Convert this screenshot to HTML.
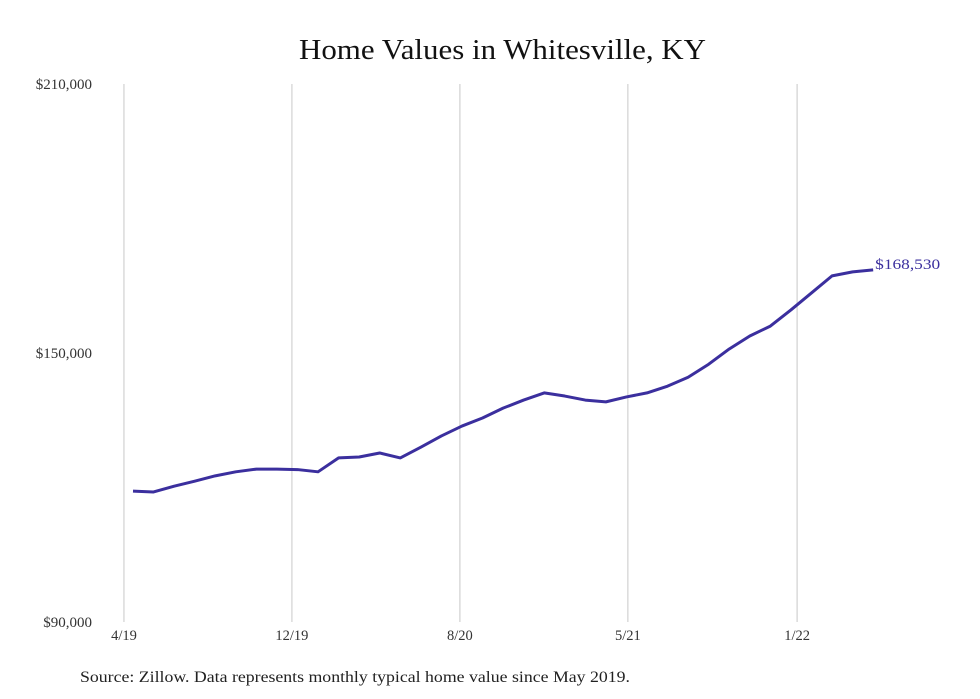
<!DOCTYPE html>
<html><head><meta charset="utf-8"><style>
body{margin:0;background:#fff;}
svg{display:block;font-family:"Liberation Serif",serif;}
</style></head><body>
<svg id="chart" width="980" height="699">
<text x="299" y="59" font-size="29" fill="#111" textLength="407" lengthAdjust="spacingAndGlyphs">Home Values in Whitesville, KY</text>
<g id="grid"></g><g id="yaxis"></g><g id="xaxis"></g><g id="series"></g>
<text x="80" y="682" font-size="15.5" fill="#222" textLength="550" lengthAdjust="spacingAndGlyphs">Source: Zillow. Data represents monthly typical home value since May 2019.</text>
</svg>
<script>
const values=[119200,119000,120300,121400,122600,123500,124100,124100,124000,123500,126600,126800,127700,126600,129000,131500,133700,135500,137700,139500,141100,140400,139500,139100,140200,141100,142600,144600,147500,150900,153800,156000,159600,163400,167200,168100,168530];
const xTickLabels=["4/19","12/19","8/20","5/21","1/22"];
const xTickIdx=[-0.44,7.73,15.9,24.07,32.3];
const yTicks=[90000,150000,210000];
const yTickLabels=["$90,000","$150,000","$210,000"];
const lastLabel="$168,530";
const NS="http://www.w3.org/2000/svg";
const x=i=>133+i*20.56;
const y=v=>622-(v-90000)/120000*538;
function mk(t,a,p){const e=document.createElementNS(NS,t);for(const k in a)e.setAttribute(k,a[k]);p.appendChild(e);return e;}
const grid=document.getElementById('grid'),xa=document.getElementById('xaxis'),ya=document.getElementById('yaxis'),se=document.getElementById('series');
xTickIdx.forEach((ix,k)=>{
 const l=mk('line',{x1:x(ix),x2:x(ix),y1:84,y2:622,stroke:'#c8c8c8','stroke-width':1},grid);
 
 
 const t=mk('text',{x:x(ix),y:640,'text-anchor':'middle','font-size':14.5,fill:'#333'},xa);
 t.textContent=xTickLabels[k];
 
 
});
yTicks.forEach((v,k)=>{
 const t=mk('text',{x:92,y:y(v)+5,'text-anchor':'end','font-size':15,fill:'#333'},ya);
 t.textContent=yTickLabels[k];
 
 
});
const p=mk('polyline',{points:values.map((v,i)=>x(i)+','+y(v)).join(' '),fill:'none',stroke:'#3b2f9e','stroke-width':3,'stroke-linejoin':'round'},se);


const li=values.length-1;
const lt=mk('text',{x:x(li)+2,y:y(values[li])-1,'font-size':15,fill:'#3b2f9e',textLength:65,lengthAdjust:'spacingAndGlyphs'},se);
lt.textContent=lastLabel;


</script>
</body></html>
